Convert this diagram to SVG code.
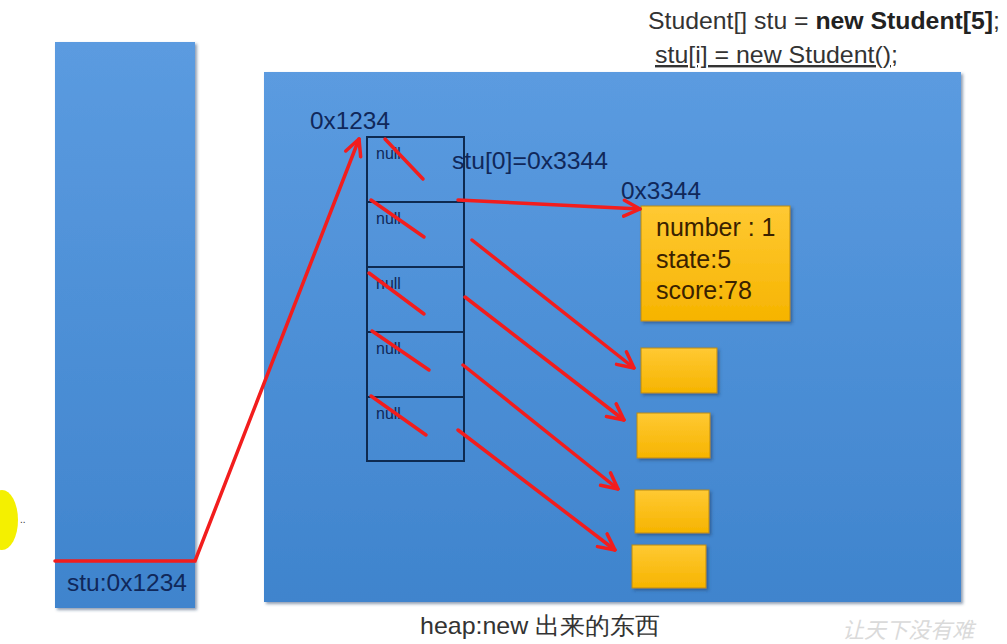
<svg xmlns="http://www.w3.org/2000/svg" width="1007" height="644" viewBox="0 0 1007 644">
<defs>
<linearGradient id="blue" x1="0" y1="0" x2="0" y2="1">
<stop offset="0" stop-color="#5b9be0"/>
<stop offset="1" stop-color="#3f84cd"/>
</linearGradient>
<linearGradient id="gold" x1="0" y1="0" x2="0" y2="1">
<stop offset="0" stop-color="#ffc933"/>
<stop offset="1" stop-color="#f6b400"/>
</linearGradient>
<marker id="ah" viewBox="0 0 20 20" refX="18" refY="10" markerWidth="20" markerHeight="20" markerUnits="userSpaceOnUse" orient="auto">
<path d="M2,2 L18,10 L2,18" fill="none" stroke="#f21d1d" stroke-width="3.5" stroke-linecap="round" stroke-linejoin="round"/>
</marker>
<filter id="sh" x="-10%" y="-10%" width="130%" height="130%">
<feDropShadow dx="2" dy="2" stdDeviation="1.5" flood-color="#1a3d66" flood-opacity="0.5"/>
</filter>
</defs>
<style>
.t{font-family:"Liberation Sans",Arial,sans-serif;fill:#333;}
.d{font-family:"Liberation Sans",Arial,sans-serif;fill:#10285a;}
.o{font-family:"Liberation Sans",Arial,sans-serif;fill:#3a2200;font-size:25px;}
.cell{fill:none;stroke:#0e2a50;stroke-width:2;}
.red{stroke:#f21d1d;stroke-width:3.5;fill:none;stroke-linecap:round;}
.box{fill:url(#gold);stroke:#b88a10;stroke-width:1;filter:url(#sh);}
</style>
<rect width="1007" height="644" fill="#ffffff"/>
<ellipse cx="2" cy="520" rx="16" ry="30" fill="#f4f000"/>
<text x="20" y="523" class="t" font-size="10">..</text>

<g id="title">
<text x="648" y="29" class="t" font-size="24" textLength="352" lengthAdjust="spacingAndGlyphs">Student[] stu = <tspan font-weight="bold" fill="#222">new Student[5]</tspan>;</text>
<text x="655" y="63" class="t" font-size="24" text-decoration="underline" textLength="243" lengthAdjust="spacingAndGlyphs">stu[i] = new Student();</text>
</g>

<g id="stack">
<rect x="55" y="42" width="140" height="566" fill="url(#blue)" filter="url(#sh)"/>
<text x="67" y="591" class="d" font-size="24" textLength="120" lengthAdjust="spacingAndGlyphs">stu:0x1234</text>
</g>

<g id="heap">
<rect x="264" y="72" width="697" height="530" fill="url(#blue)" filter="url(#sh)"/>
<text x="310" y="129" class="d" font-size="24" textLength="80" lengthAdjust="spacingAndGlyphs">0x1234</text>
<text x="452" y="169" class="d" font-size="24" textLength="156" lengthAdjust="spacingAndGlyphs">stu[0]=0x3344</text>
<text x="621" y="199" class="d" font-size="24" textLength="80" lengthAdjust="spacingAndGlyphs">0x3344</text>
</g>

<g id="array">
<rect x="367" y="137" width="97" height="324" class="cell"/>
<line x1="367" y1="202" x2="464" y2="202" class="cell"/>
<line x1="367" y1="267" x2="464" y2="267" class="cell"/>
<line x1="367" y1="332" x2="464" y2="332" class="cell"/>
<line x1="367" y1="397" x2="464" y2="397" class="cell"/>
<text x="376" y="159" class="d" font-size="16">null</text>
<text x="376" y="224" class="d" font-size="16">null</text>
<text x="376" y="289" class="d" font-size="16">null</text>
<text x="376" y="354" class="d" font-size="16">null</text>
<text x="376" y="419" class="d" font-size="16">null</text>
</g>

<g id="student0">
<rect x="641" y="206" width="149" height="115" class="box"/>
<text x="656" y="236" class="o">number : 1</text>
<text x="656" y="268" class="o">state:5</text>
<text x="656" y="299" class="o">score:78</text>
</g>
<g id="student1"><rect x="641" y="348" width="76" height="45" class="box"/></g>
<g id="student2"><rect x="637" y="413" width="73" height="45" class="box"/></g>
<g id="student3"><rect x="635" y="490" width="74" height="43" class="box"/></g>
<g id="student4"><rect x="632" y="545" width="74" height="43" class="box"/></g>

<g id="connectors">
<polyline points="55,561 195,561 359,139" class="red" marker-end="url(#ah)"/>
<line x1="385" y1="139" x2="423" y2="179" class="red"/>
<line x1="371" y1="200" x2="424" y2="237" class="red"/>
<line x1="369" y1="273" x2="424" y2="314" class="red"/>
<line x1="372" y1="331" x2="429" y2="370" class="red"/>
<line x1="371" y1="396" x2="426" y2="435" class="red"/>
<line x1="458" y1="200" x2="640" y2="209" class="red" marker-end="url(#ah)"/>
<line x1="472" y1="240" x2="634" y2="368" class="red" marker-end="url(#ah)"/>
<line x1="465" y1="297" x2="624" y2="420" class="red" marker-end="url(#ah)"/>
<line x1="463" y1="365" x2="618" y2="489" class="red" marker-end="url(#ah)"/>
<line x1="458" y1="430" x2="615" y2="550" class="red" marker-end="url(#ah)"/>
</g>

<text x="420" y="634" class="t" font-size="24" font-family="'Liberation Sans','Noto Sans CJK SC',sans-serif" textLength="240" lengthAdjust="spacingAndGlyphs">heap:new 出来的东西</text>
<text x="842" y="638" font-size="22" fill="#dadada" font-style="italic" font-family="'Noto Sans CJK SC',sans-serif">让天下没有难</text>
</svg>
